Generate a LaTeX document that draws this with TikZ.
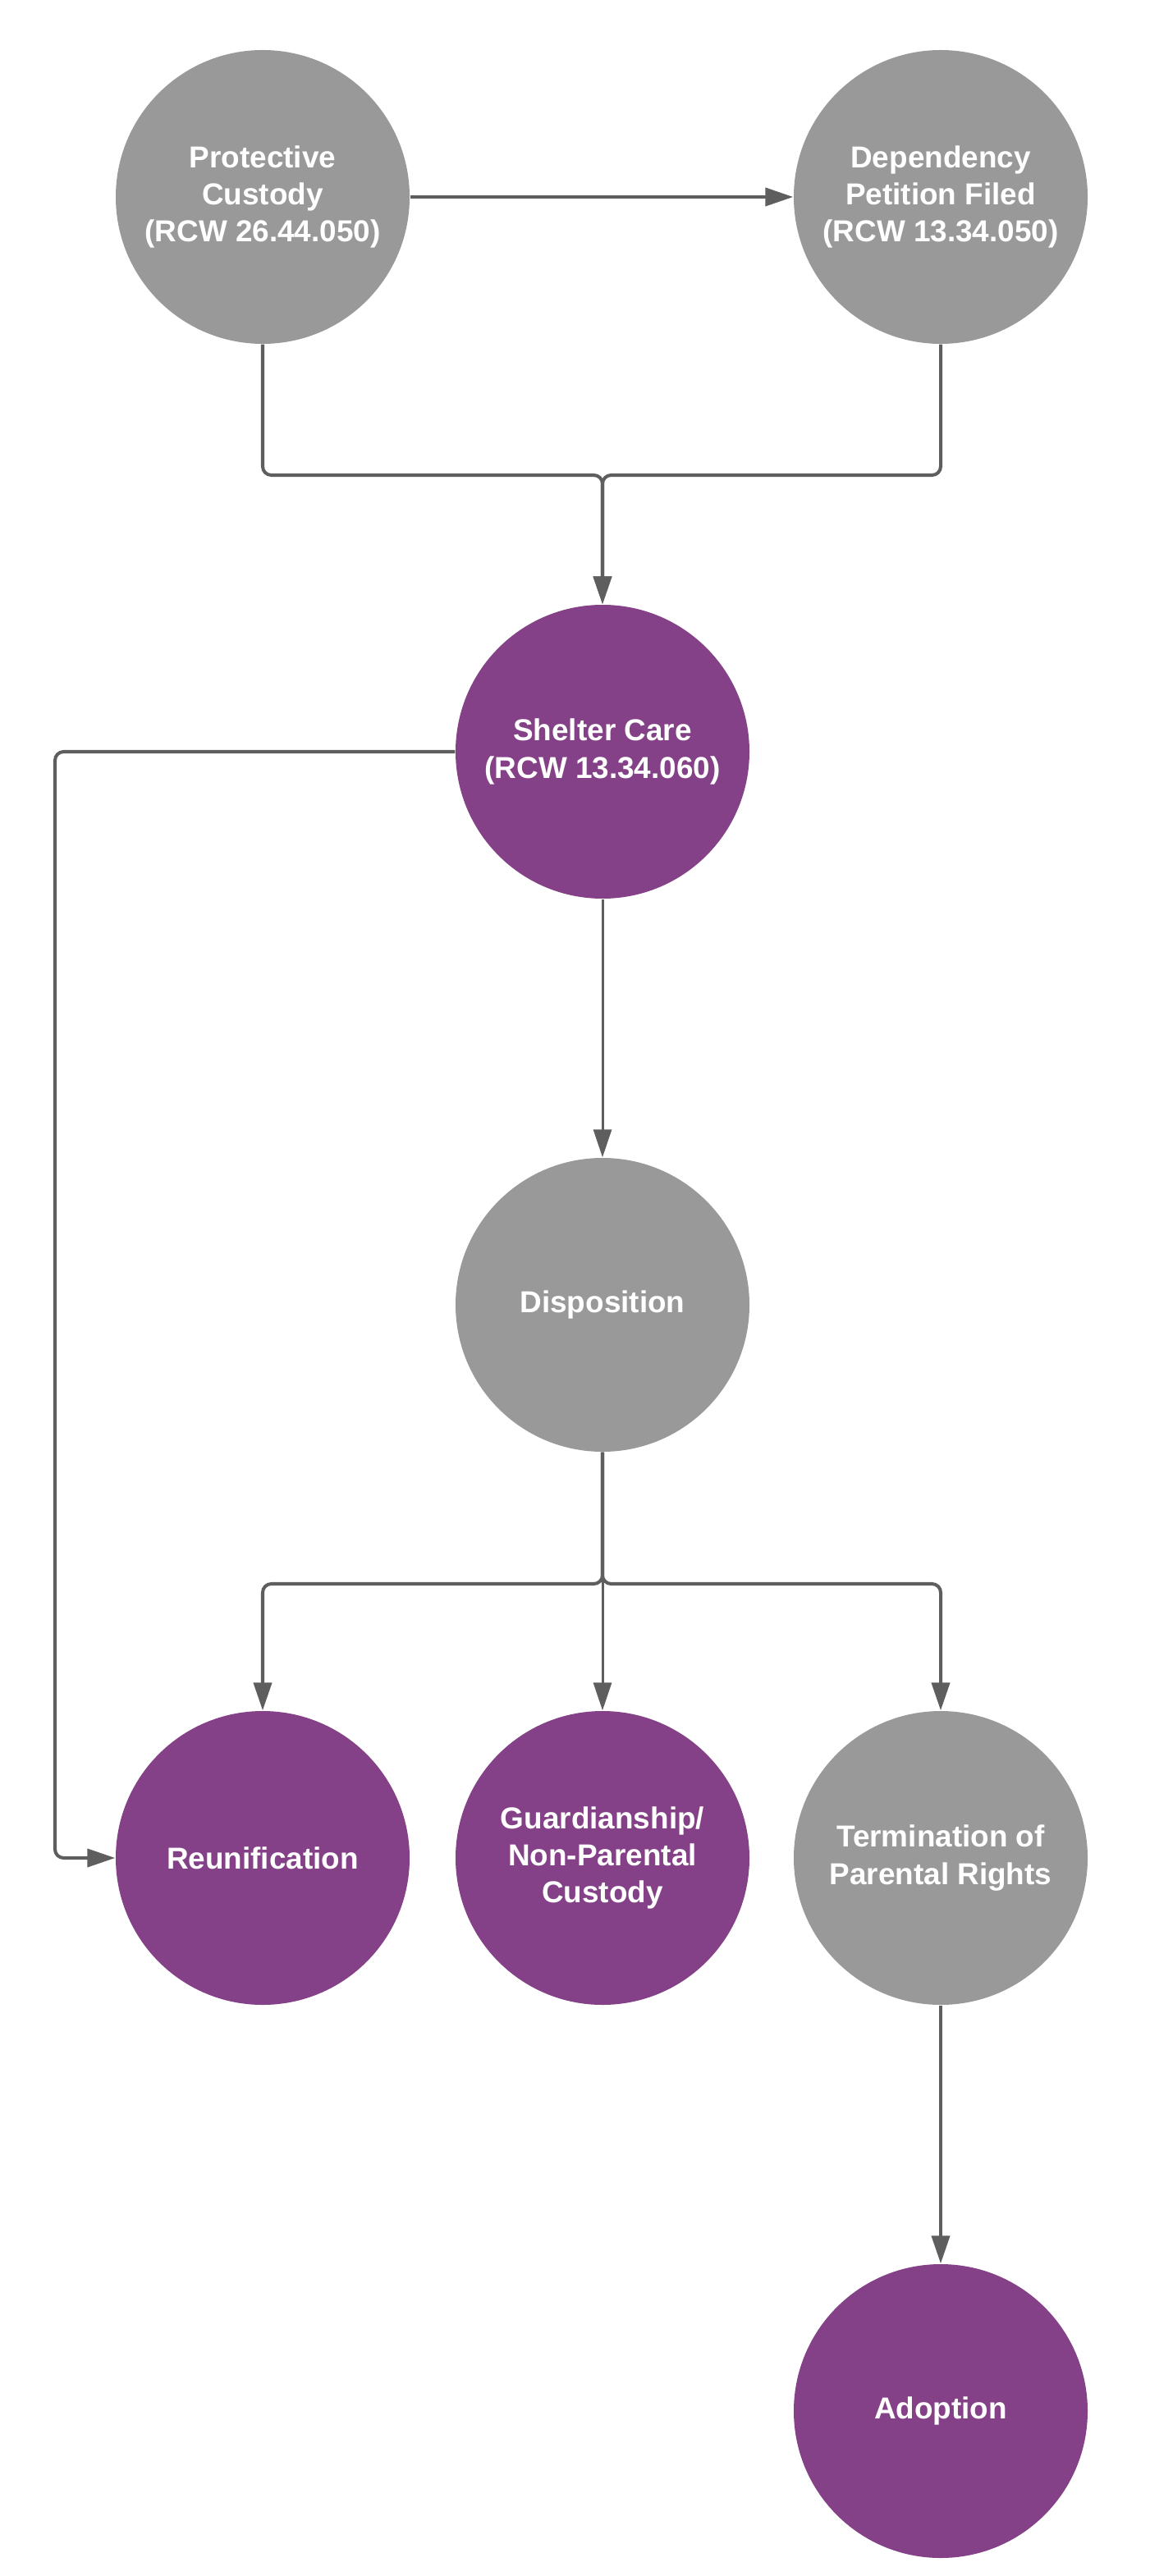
\documentclass[tikz,border=0pt]{standalone}
\usepackage{fontspec}
\setmainfont{Liberation Sans}
\usepackage{tikz}
\usetikzlibrary{arrows.meta}
\definecolor{stepgray}{HTML}{999999}
\definecolor{steppurple}{HTML}{844187}
\definecolor{linkgray}{HTML}{5E5E5E}
\tikzstyle{stage}=[circle, inner sep=0pt, minimum size=3.58cm, align=center, text=white, font=\bfseries\fontsize{10.5}{12.9}\selectfont]
\tikzstyle{gstage}=[stage, fill=stepgray]
\tikzstyle{pstage}=[stage, fill=steppurple]
\tikzstyle{link}=[draw=linkgray, line width=1.15pt, rounded corners=3pt, -{Triangle[length=0.34cm, width=0.22cm]}]
\tikzstyle{thinlink}=[link, line width=0.85pt]
\begin{document}
\begin{tikzpicture}
        \useasboundingbox (0,0) rectangle (14.01,-31.39);
        \node[gstage] (PC) at (3.20,-2.40) {Protective\\Custody\\(RCW 26.44.050)};
        \node[gstage] (DP) at (11.46,-2.40) {Dependency\\Petition Filed\\(RCW 13.34.050)};
        \node[pstage] (SC) at (7.34,-9.16) {Shelter Care\\(RCW 13.34.060)};
        \node[gstage] (D) at (7.34,-15.90) {Disposition};
        \node[pstage] (R) at (3.20,-22.64) {Reunification};
        \node[pstage] (G) at (7.34,-22.64) {Guardianship/\\Non-Parental\\Custody};
        \node[gstage] (T) at (11.46,-22.64) {Termination of\\Parental Rights};
        \node[pstage] (A) at (11.46,-29.38) {Adoption};
        \coordinate (merge) at (7.34,-5.79);
        \coordinate (split) at (7.34,-19.30);
        \coordinate (lft) at (0.67,-9.16);
        \draw[link] (PC) -- (DP);
        \draw[link] (PC.south) -- (PC.south |- merge) -- (merge) -- (SC.north);
        \draw[link] (DP.south) -- (DP.south |- merge) -- (merge) -- (SC.north);
        \draw[link] (SC.west) -- (lft) -- (lft |- R) -- (R.west);
        \draw[thinlink] (SC.south) -- (D.north);
        \draw[link] (D.south) -- (split) -- (split -| R) -- (R.north);
        \draw[link] (D.south) -- (split) -- (split -| T) -- (T.north);
        \draw[thinlink] (D.south) -- (G.north);
        \draw[link] (T.south) -- (A.north);
    \end{tikzpicture}
\end{document}
